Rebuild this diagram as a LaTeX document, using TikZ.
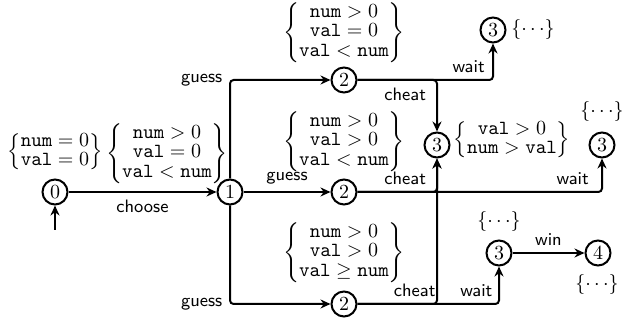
\documentclass[tikz,border=0pt]{standalone}
\usetikzlibrary{arrows.meta}
% condition sets shown beside the states
\newcommand{\conds}[1]{$\renewcommand{\arraystretch}{0.8}\left\{\begin{array}{@{}c@{}}#1\end{array}\right\}$}
\newcommand{\tv}[1]{\mathtt{#1}}
\begin{document}
\begin{tikzpicture}[x=0.5pt,y=-0.5pt,
  st/.style={circle,draw,line width=1pt,minimum size=12.5pt,inner sep=0pt},
  arr/.style={line width=1pt,-{Stealth[length=5pt,width=4.5pt]}},
  lab/.style={font=\sffamily\small},
  cnd/.style={inner sep=1pt},
  rc/.style={rounded corners=1.8pt}]
\useasboundingbox (0,0) rectangle (638,320);

% states
\node[st] (s0)  at (55,192)  {$0$};
\node[st] (s1)  at (230,192) {$1$};
\node[st] (s2a) at (344,80)  {$2$};
\node[st] (s2b) at (344,192) {$2$};
\node[st] (s2c) at (344,304) {$2$};
\node[st] (s3a) at (493,30)  {$3$};
\node[st] (s3b) at (437,145) {$3$};
\node[st] (s3c) at (602,145) {$3$};
\node[st] (s3d) at (499,253) {$3$};
\node[st] (s4)  at (598,253) {$4$};

% conditions
\node[cnd] (c0)  at (55,152)  {\conds{\tv{num}=0\\ \tv{val}=0}};
\node[cnd] (c1)  at (167,154) {\conds{\tv{num}>0\\ \tv{val}=0\\ \tv{val}<\tv{num}}};
\node[cnd] (c2a) at (344,33)  {\conds{\tv{num}>0\\ \tv{val}=0\\ \tv{val}<\tv{num}}};
\node[cnd] (c2b) at (344,142) {\conds{\tv{num}>0\\ \tv{val}>0\\ \tv{val}<\tv{num}}};
\node[cnd] (c2c) at (344,253) {\conds{\tv{num}>0\\ \tv{val}>0\\ \tv{val}\geq\tv{num}}};
\node[cnd] (c3b) at (512,140) {\conds{\tv{val}>0\\ \tv{num}>\tv{val}}};
\node (d3a) at (533,30)  {$\{\cdots\}$};
\node (d3c) at (602,112) {$\{\cdots\}$};
\node (d3d) at (499,222) {$\{\cdots\}$};
\node (d4)  at (597,285) {$\{\cdots\}$};

% transitions
\coordinate (init) at (55,230);
\draw[arr] (init) -- (s0);
\draw[arr] (s0) -- node[lab,below] {choose} (s1);
\draw[arr,rc] (s1.north) |- node[lab,pos=0.5,left] {guess} (s2a);
\draw[arr] (s1) -- node[lab,above] {guess} (s2b);
\draw[arr,rc] (s1.south) |- node[lab,pos=0.5,left] {guess} (s2c);

\draw[arr,rc] (s2a) -| node[lab,pos=0.41,above] {wait} (s3a);
\draw[arr,rc] (s2a) -| node[lab,pos=0.3,below] {cheat} (s3b);
\draw[arr,rc] (s2b) -| node[lab,pos=0.3,above] {cheat} (s3b);
\draw[arr,rc] (s2b) -| node[lab,pos=0.44,above] {wait} (s3c);
\draw[arr,rc] (s2c) -| node[lab,pos=0.36,above] {cheat} (s3b);
\draw[arr,rc] (s2c) -| node[lab,pos=0.42,above] {wait} (s3d);
\draw[arr] (s3d) -- node[lab,above] {win} (s4);
\end{tikzpicture}
\end{document}
